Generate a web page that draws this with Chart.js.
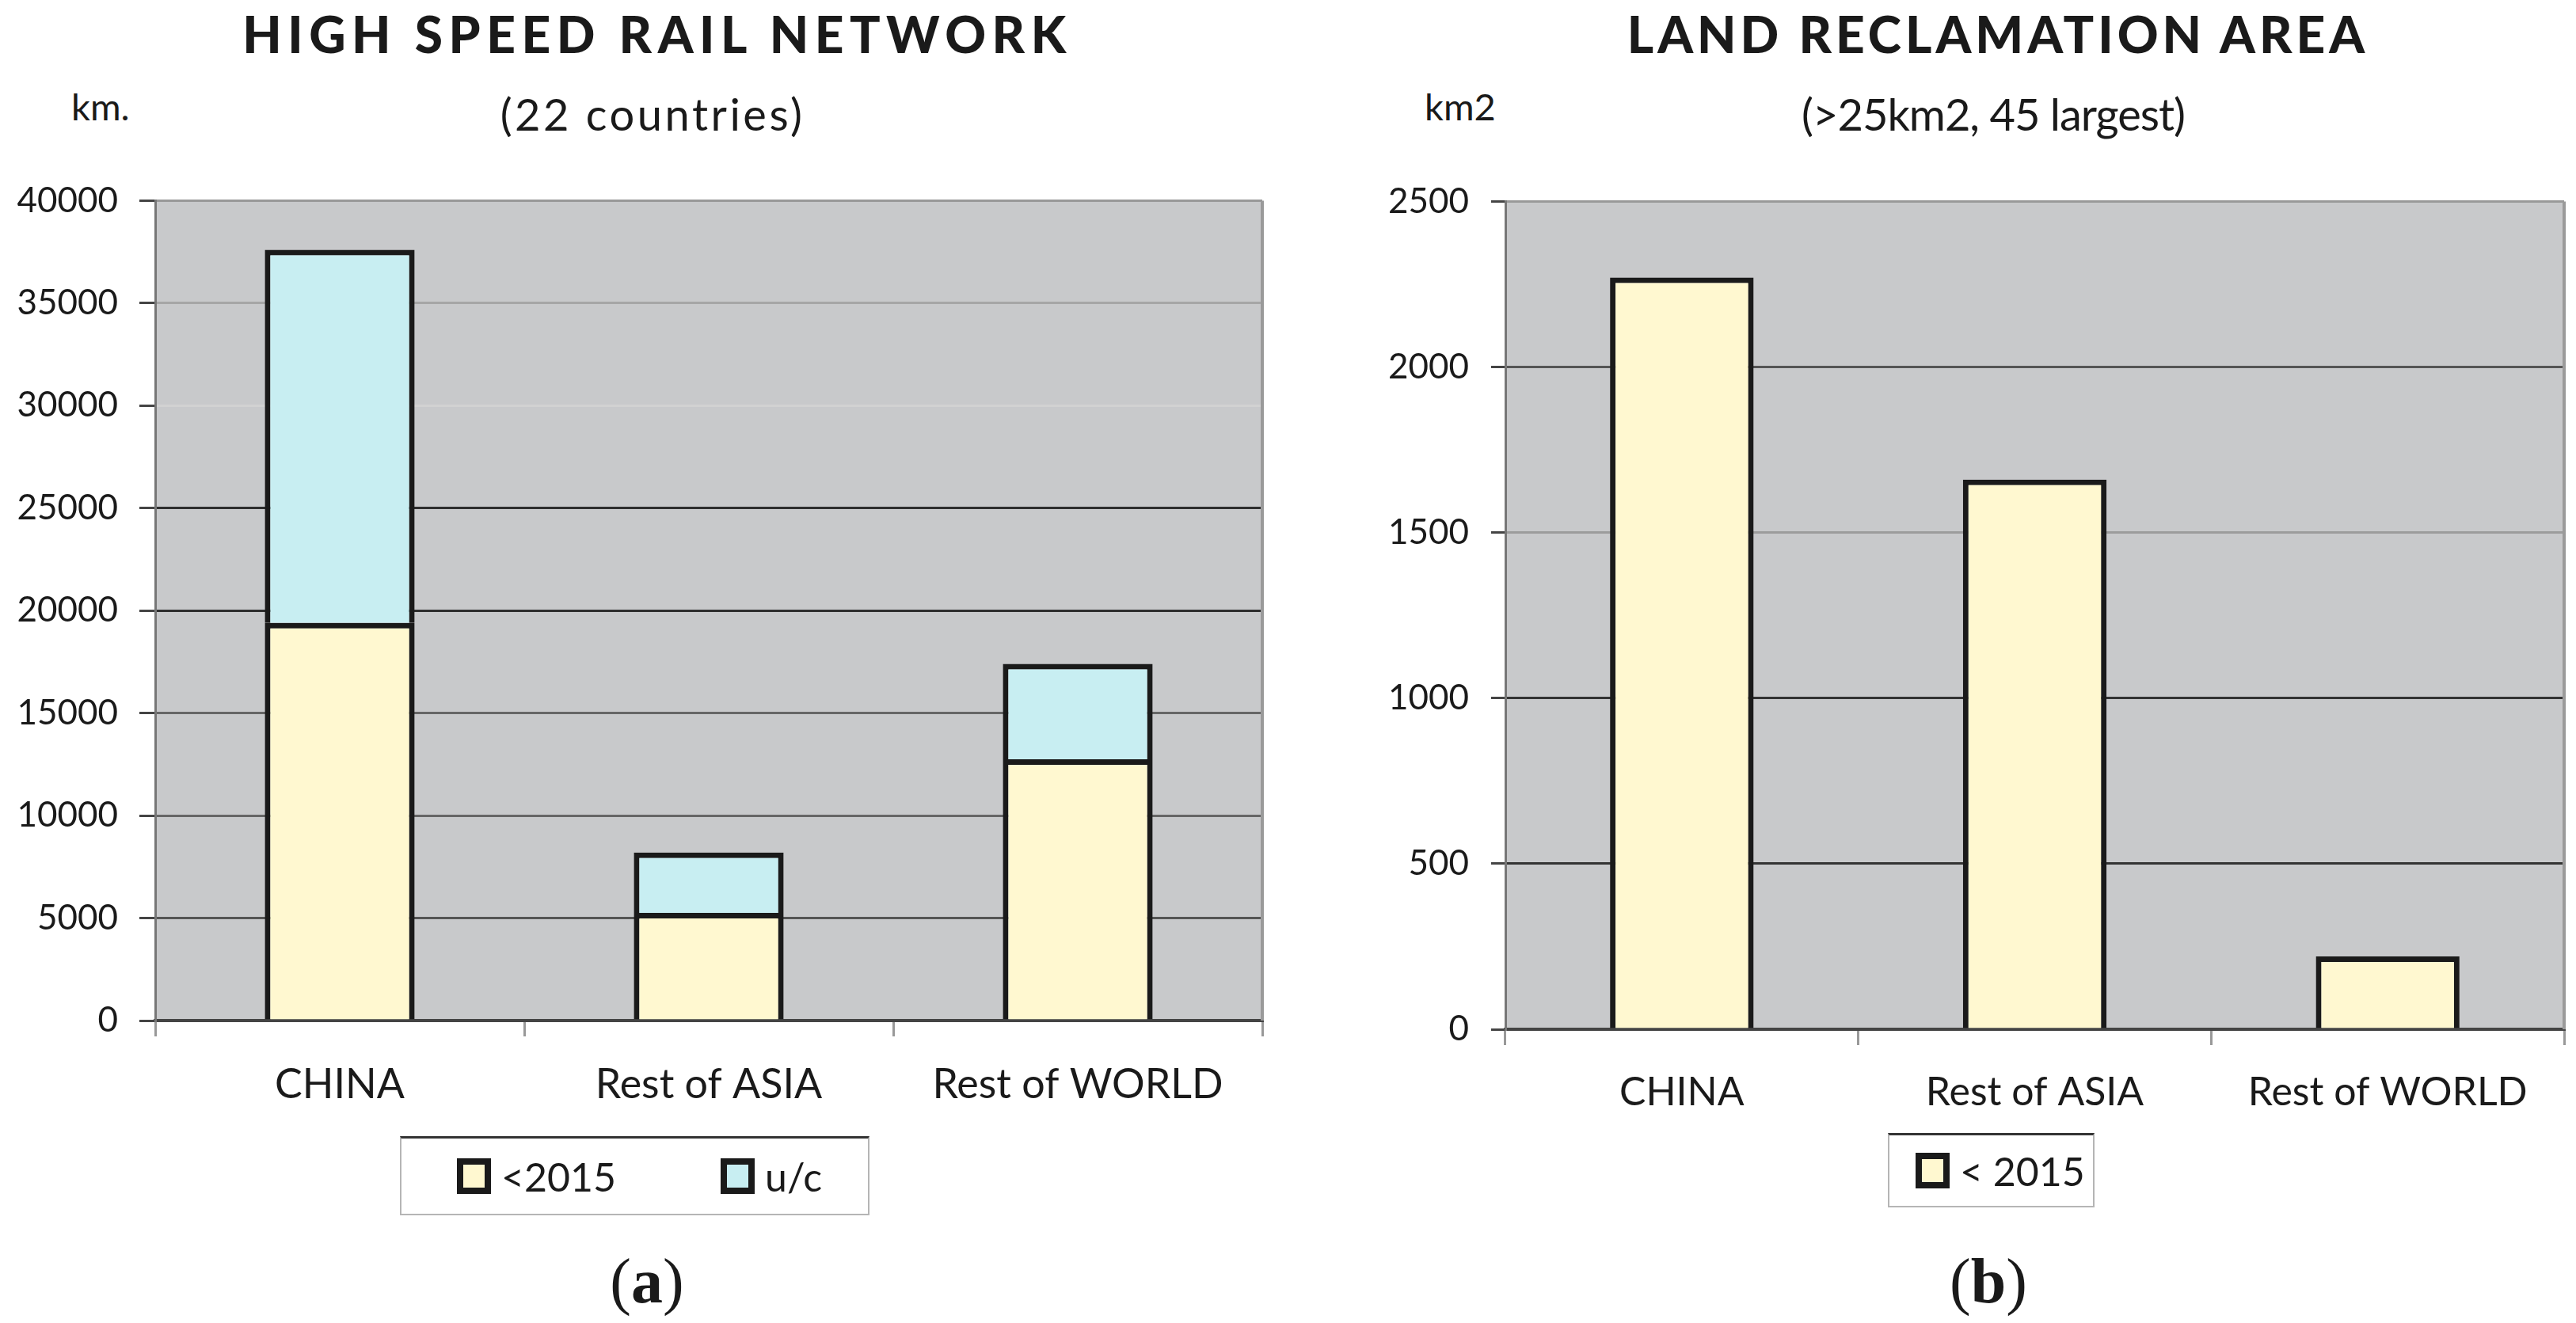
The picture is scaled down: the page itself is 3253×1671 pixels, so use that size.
<!DOCTYPE html>
<html>
<head>
<meta charset="utf-8">
<script src="https://cdn.jsdelivr.net/npm/chart.js@4"></script>
<style>
  html, body { margin: 0; padding: 0; background: #fff; }
  #page { position: relative; width: 3253px; height: 1671px; background: #fff; font-family: 'Lato', 'Open Sans', sans-serif; color: #1a1a1a; overflow: hidden; }
  .abs { position: absolute; white-space: nowrap; }
  .title { font-weight: 900; font-size: 64px; transform: translateX(-50%); }
  .subtitle { font-size: 56px; transform: translateX(-50%); }
  .unit { font-size: 47px; }
  .legend { border: 2px solid #b5b5b5; border-top: 3px solid #333; background: #fff; box-sizing: border-box; }
  .legend .item { position: absolute; top: 0; bottom: 0; display: flex; align-items: center; font-size: 50px; }
  .legend .sw { width: 27px; height: 29px; border: 8px solid #1a1a1a; margin-right: 13px; }
  .caption { font-family: 'Liberation Serif', 'DejaVu Serif', serif; font-size: 80px; line-height: 80px; transform: translateX(-50%); }
  .caption b { font-weight: bold; }
  canvas { position: absolute; }
</style>
</head>
<body>
<div id="page">
  <div class="abs title" style="left:830px; top:4px; letter-spacing:7.5px;">HIGH SPEED RAIL NETWORK</div>
  <div class="abs subtitle" style="left:824px; top:110px; letter-spacing:3.5px;">(22 countries)</div>
  <div class="abs unit" style="left:90px; top:106px;">km.</div>
  <canvas id="railChart" width="1650" height="1250" style="left:0; top:200px;"></canvas>
  <div class="abs legend" style="left:505px; top:1435px; width:593px; height:100px;">
    <div class="item" style="left:70px;"><span class="sw" style="background:#FFF8D0"></span>&lt;2015</div>
    <div class="item" style="left:403px;"><span class="sw" style="background:#C8EEF2"></span>u/c</div>
  </div>
  <div class="abs caption" style="left:817px; top:1578px;">(<b>a</b>)</div>

  <div class="abs title" style="left:2523px; top:4px; letter-spacing:5px;">LAND RECLAMATION AREA</div>
  <div class="abs subtitle" style="left:2517px; top:110px; letter-spacing:-1px;">(&gt;25km2, 45 largest)</div>
  <div class="abs unit" style="left:1799px; top:106px;">km2</div>
  <canvas id="landChart" width="1603" height="1250" style="left:1650px; top:200px;"></canvas>
  <div class="abs legend" style="left:2384px; top:1431px; width:261px; height:94px;">
    <div class="item" style="left:33px;"><span class="sw" style="background:#FFF8D0"></span>&lt; 2015</div>
  </div>
  <div class="abs caption" style="left:2511px; top:1578px;">(<b>b</b>)</div>
</div>

<script>
// --- данные ---
const categories = ['CHINA', 'Rest of ASIA', 'Rest of WORLD'];
const railBefore2015 = [19400, 5250, 12750];
const railUnderConstruction = [18200, 2950, 4650];
const reclaimedBefore2015 = [2270, 1660, 220];
const railAxis = { min: 0, max: 40000, step: 5000 };
const landAxis = { min: 0, max: 2500, step: 500 };

// --- стили ---
const CREAM = '#FFF8D0';
const CYAN = '#C8EEF2';
const EDGE = '#1a1a1a';
const PLOT_BG = '#C8C9CB';
// оттенки линий сетки как на скане
const railGrid = { 40000: '#999', 35000: '#a6a6a6', 30000: '#d2d2d2', 25000: '#2e2e2e', 20000: '#2e2e2e', 15000: '#666', 10000: '#666', 5000: '#555', 0: '#444' };
const landGrid = { 2500: '#999', 2000: '#555', 1500: '#9c9c9c', 1000: '#333', 500: '#333', 0: '#444' };

const FONT = "'Lato', 'Open Sans', sans-serif";

// серый фон области построения + правая рамка
const plotBackground = {
  id: 'plotBackground',
  beforeDraw(chart) {
    const { ctx, chartArea: a } = chart;
    ctx.save();
    ctx.fillStyle = PLOT_BG;
    ctx.fillRect(a.left, a.top, a.right - a.left, a.bottom - a.top);
    ctx.restore();
  },
  afterDatasetsDraw(chart) {
    const { ctx, chartArea: a } = chart;
    ctx.save();
    ctx.strokeStyle = '#9a9a9a';
    ctx.lineWidth = 4;
    ctx.beginPath();
    ctx.moveTo(a.right, a.top);
    ctx.lineTo(a.right, a.bottom);
    ctx.stroke();
    ctx.restore();
  }
};

function makeOptions({ axis, grid, yWidth, xHeight, padding, yTickLen, yPad, labelPad, labelSize, stacked }) {
  return {
    responsive: false,
    animation: false,
    devicePixelRatio: 1,
    layout: { padding },
    plugins: { legend: { display: false }, tooltip: { enabled: false } },
    scales: {
      x: {
        stacked,
        grid: { offset: true, drawOnChartArea: false, color: '#999', lineWidth: 3, tickLength: 20 },
        border: { color: '#444', width: 4 },
        ticks: { color: '#1a1a1a', padding: labelPad, font: { family: FONT, size: labelSize }, maxRotation: 0 },
        afterFit(scale) { scale.height = xHeight; }
      },
      y: {
        stacked,
        min: axis.min,
        max: axis.max,
        grid: {
          color: c => grid[c.tick.value] || '#555',
          lineWidth: 3,
          tickLength: yTickLen,
          tickColor: '#444'
        },
        border: { color: '#777', width: 3 },
        ticks: {
          stepSize: axis.step,
          color: '#1a1a1a',
          padding: yPad,
          font: { family: FONT, size: 44 },
          callback: v => String(v)
        },
        afterFit(scale) { scale.width = yWidth; }
      }
    }
  };
}

new Chart(document.getElementById('railChart'), {
  type: 'bar',
  data: {
    labels: categories,
    datasets: [
      { label: '<2015', data: railBefore2015, backgroundColor: CREAM, borderColor: EDGE, borderWidth: 7, barPercentage: 0.406, categoryPercentage: 1 },
      { label: 'u/c', data: railUnderConstruction, backgroundColor: CYAN, borderColor: EDGE, borderWidth: 7, barPercentage: 0.406, categoryPercentage: 1 }
    ]
  },
  options: makeOptions({
    axis: railAxis, grid: railGrid, yWidth: 196, xHeight: 161,
    padding: { top: 46, right: 56, left: 0, bottom: 0 },
    yTickLen: 20, yPad: 27, labelPad: 30, labelSize: 52, stacked: true
  }),
  plugins: [plotBackground]
});

new Chart(document.getElementById('landChart'), {
  type: 'bar',
  data: {
    labels: categories,
    datasets: [
      { label: '< 2015', data: reclaimedBefore2015, backgroundColor: CREAM, borderColor: EDGE, borderWidth: 7, barPercentage: 0.407, categoryPercentage: 1 }
    ]
  },
  options: makeOptions({
    axis: landAxis, grid: landGrid, yWidth: 251, xHeight: 150,
    padding: { top: 52, right: 15, left: 0, bottom: 0 },
    yTickLen: 18, yPad: 28, labelPad: 30, labelSize: 50, stacked: false
  }),
  plugins: [plotBackground]
});
</script>
</body>
</html>
